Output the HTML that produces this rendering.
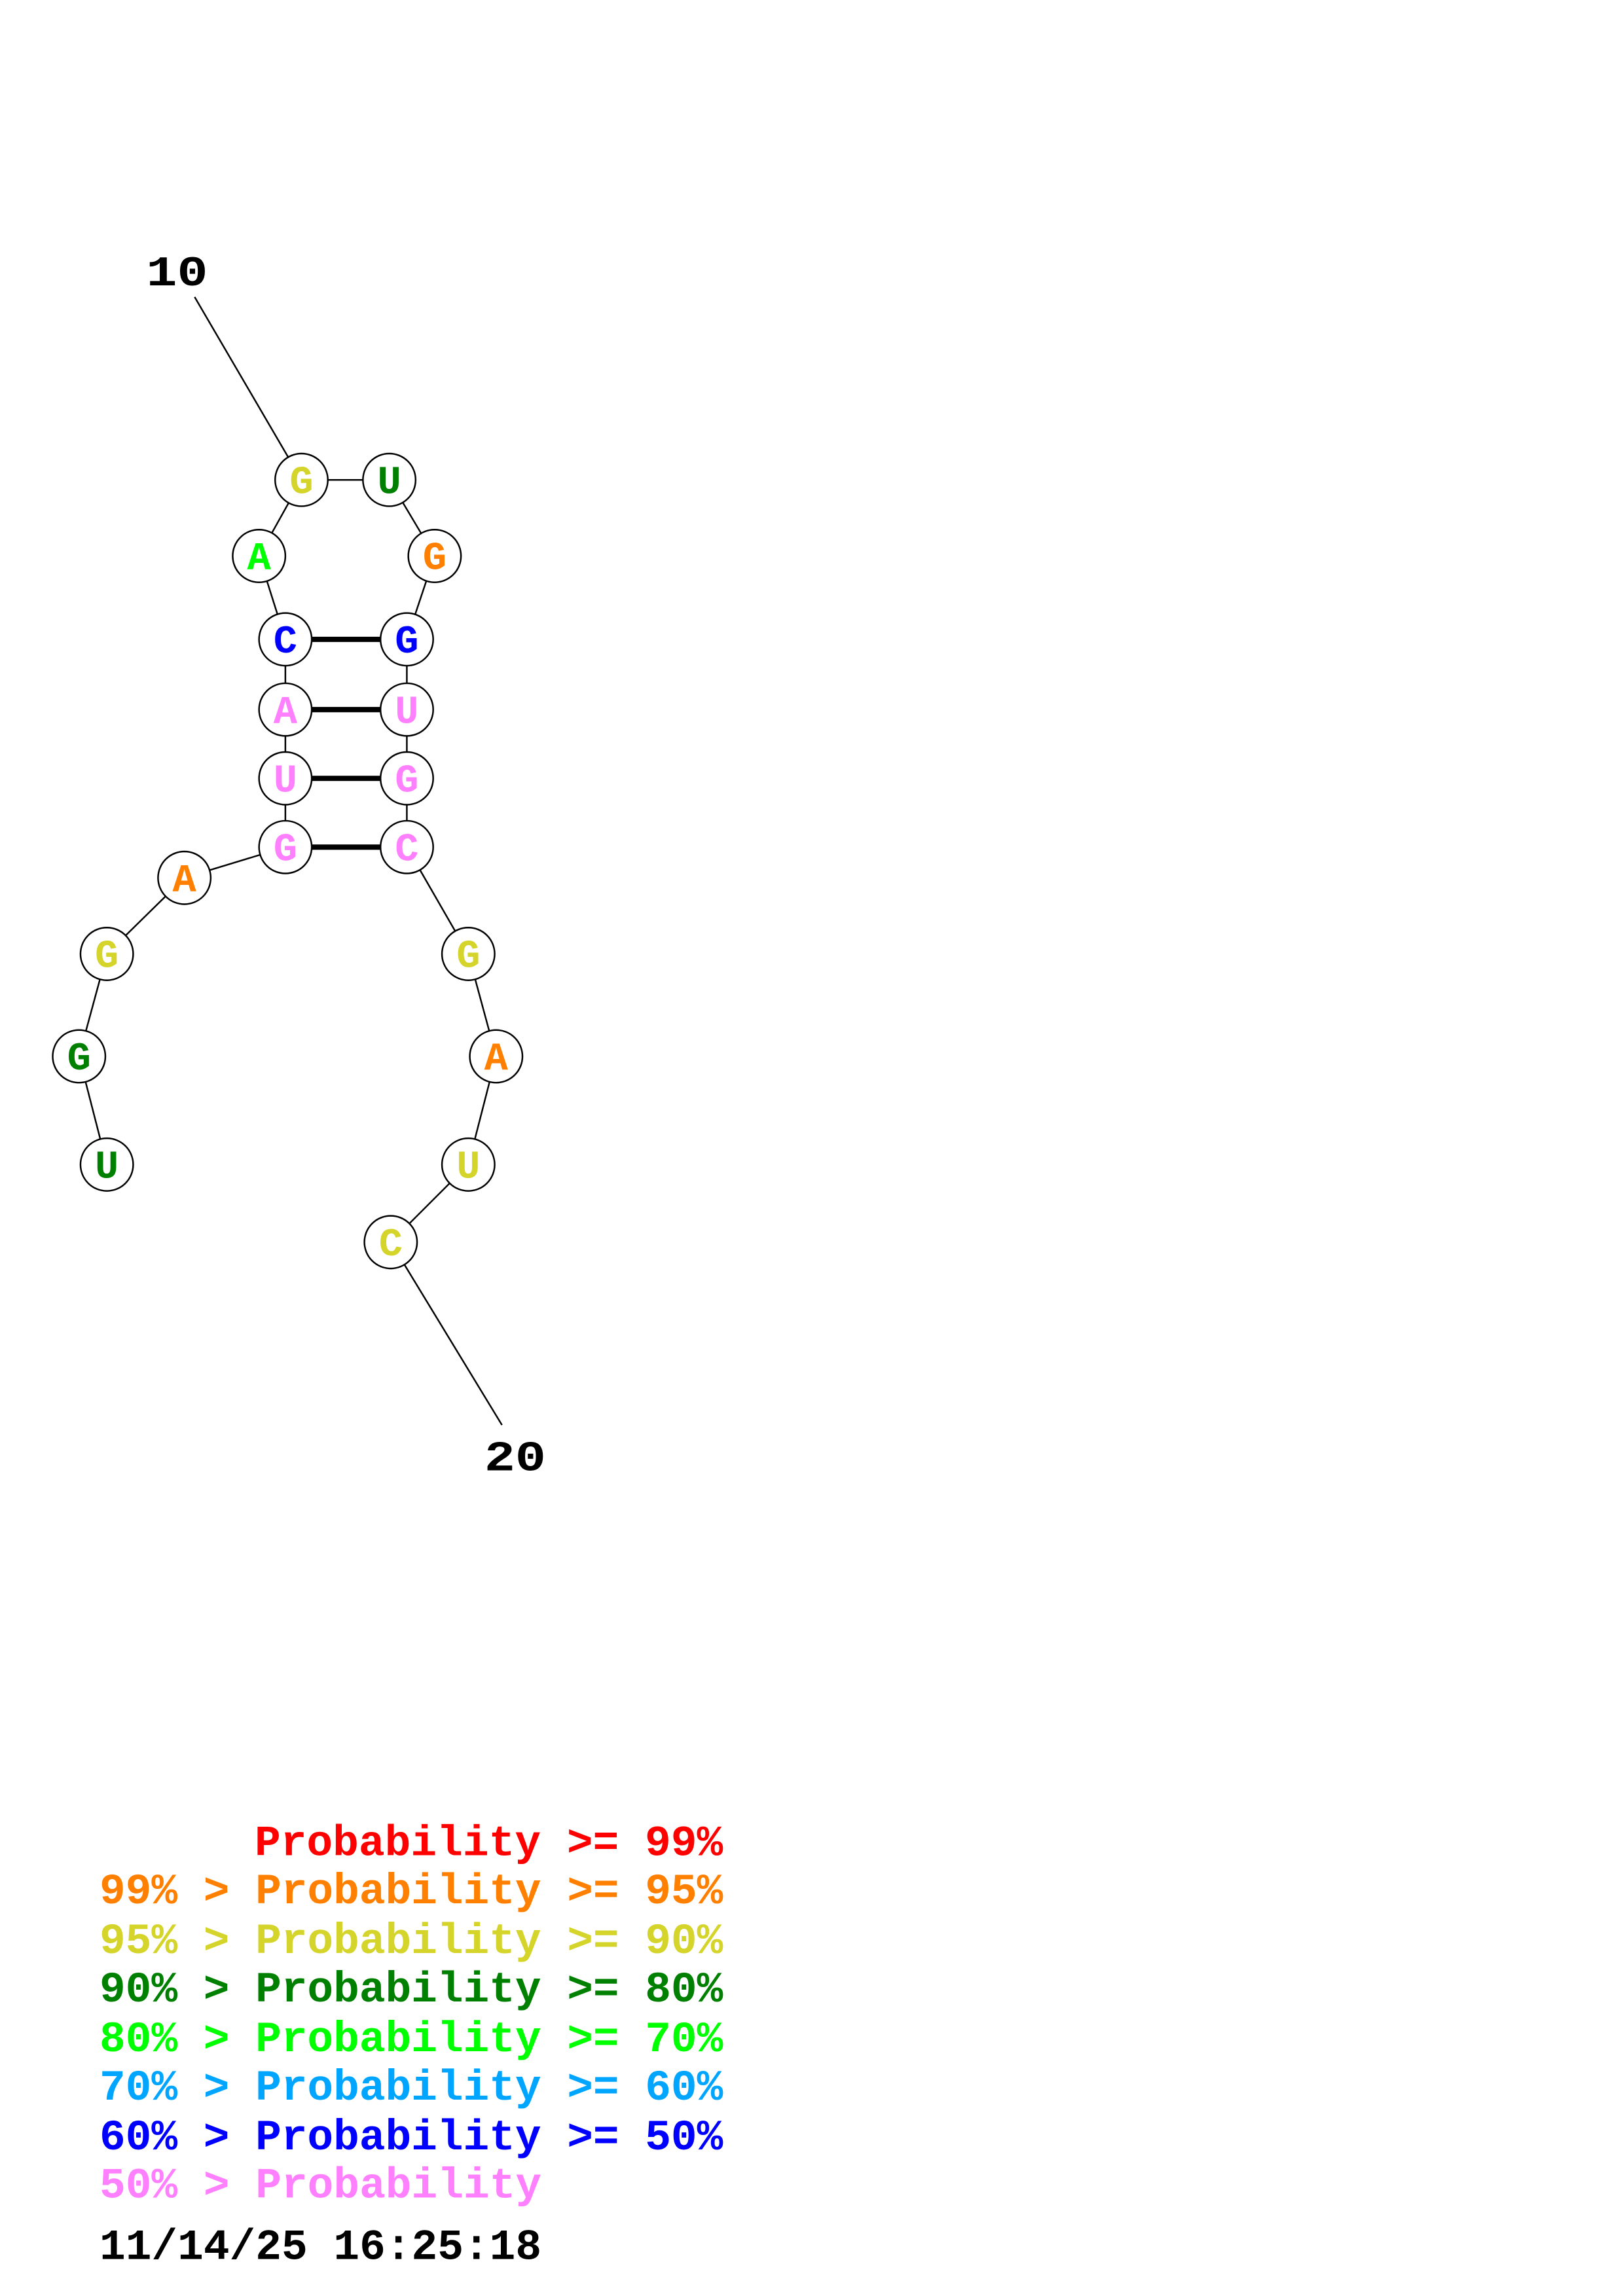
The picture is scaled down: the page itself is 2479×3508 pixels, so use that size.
<!DOCTYPE html>
<html><head><meta charset="utf-8"><style>
html,body{margin:0;padding:0;background:#fff;}
svg{display:block;}
text{font-family:"Liberation Mono","DejaVu Sans Mono",monospace;font-weight:bold;}
</style></head><body>
<svg width="2479" height="3508" viewBox="0 0 1109 1569.3" preserveAspectRatio="none" xmlns="http://www.w3.org/2000/svg">
<rect width="1109" height="1569.3" fill="#fff"/>
<g stroke="#000" stroke-width="1.1" fill="none">
<line x1="133" y1="203" x2="206" y2="328"/>
<line x1="343" y1="974" x2="267" y2="849"/>
<polyline points="73,796 54,722 73,652 126,600 195,579 195,532 195,485 195,437 177,380 206,328 266,328 297,380 278,437 278,485 278,532 278,579 320,652 339,722 320,796 267,849"/>
</g>
<g stroke="#000" stroke-width="3.6">
<line x1="195" y1="437" x2="278" y2="437"/>
<line x1="195" y1="485" x2="278" y2="485"/>
<line x1="195" y1="532" x2="278" y2="532"/>
<line x1="195" y1="579" x2="278" y2="579"/>
</g>
<g stroke="#000" stroke-width="1.1" fill="#fff">
<circle cx="206" cy="328" r="18"/><circle cx="266" cy="328" r="18"/>
<circle cx="177" cy="380" r="18"/><circle cx="297" cy="380" r="18"/>
<circle cx="195" cy="437" r="18"/><circle cx="278" cy="437" r="18"/>
<circle cx="195" cy="485" r="18"/><circle cx="278" cy="485" r="18"/>
<circle cx="195" cy="532" r="18"/><circle cx="278" cy="532" r="18"/>
<circle cx="195" cy="579" r="18"/><circle cx="278" cy="579" r="18"/>
<circle cx="126" cy="600" r="18"/><circle cx="73" cy="652" r="18"/>
<circle cx="54" cy="722" r="18"/><circle cx="73" cy="796" r="18"/>
<circle cx="320" cy="652" r="18"/><circle cx="339" cy="722" r="18"/>
<circle cx="320" cy="796" r="18"/><circle cx="267" cy="849" r="18"/>
</g>
<g font-size="27" text-anchor="middle">
<text x="206" y="337" fill="#d4d42a">G</text>
<text x="266" y="337" fill="#008000">U</text>
<text x="177" y="389" fill="#00ff00">A</text>
<text x="297" y="389" fill="#ff8000">G</text>
<text x="195" y="446" fill="#0000ff">C</text>
<text x="278" y="446" fill="#0000ff">G</text>
<text x="195" y="494" fill="#ff80ff">A</text>
<text x="278" y="494" fill="#ff80ff">U</text>
<text x="195" y="541" fill="#ff80ff">U</text>
<text x="278" y="541" fill="#ff80ff">G</text>
<text x="195" y="588" fill="#ff80ff">G</text>
<text x="278" y="588" fill="#ff80ff">C</text>
<text x="126" y="609" fill="#ff8000">A</text>
<text x="73" y="661" fill="#d4d42a">G</text>
<text x="54" y="731" fill="#008000">G</text>
<text x="73" y="805" fill="#008000">U</text>
<text x="320" y="661" fill="#d4d42a">G</text>
<text x="339" y="731" fill="#ff8000">A</text>
<text x="320" y="805" fill="#d4d42a">U</text>
<text x="267" y="858" fill="#d4d42a">C</text>
</g>
<g font-size="29">
<text x="100" y="195" textLength="42" lengthAdjust="spacingAndGlyphs">10</text>
<text x="331" y="1005" textLength="42" lengthAdjust="spacingAndGlyphs">20</text>
</g>
<g font-size="29.5">
<text x="174" y="1268" fill="#ff0000" textLength="320" lengthAdjust="spacingAndGlyphs">Probability &gt;= 99%</text>
<text x="68" y="1301" fill="#ff8000" textLength="426" lengthAdjust="spacingAndGlyphs">99% &gt; Probability &gt;= 95%</text>
<text x="68" y="1335" fill="#d4d42a" textLength="426" lengthAdjust="spacingAndGlyphs">95% &gt; Probability &gt;= 90%</text>
<text x="68" y="1368" fill="#008000" textLength="426" lengthAdjust="spacingAndGlyphs">90% &gt; Probability &gt;= 80%</text>
<text x="68" y="1402" fill="#00ff00" textLength="426" lengthAdjust="spacingAndGlyphs">80% &gt; Probability &gt;= 70%</text>
<text x="68" y="1435" fill="#00a5ff" textLength="426" lengthAdjust="spacingAndGlyphs">70% &gt; Probability &gt;= 60%</text>
<text x="68" y="1469" fill="#0000ff" textLength="426" lengthAdjust="spacingAndGlyphs">60% &gt; Probability &gt;= 50%</text>
<text x="68" y="1502" fill="#ff80ff" textLength="302" lengthAdjust="spacingAndGlyphs">50% &gt; Probability</text>
<text x="68" y="1544" fill="#000" textLength="302" lengthAdjust="spacingAndGlyphs">11/14/25 16:25:18</text>
</g>
</svg>
</body></html>
